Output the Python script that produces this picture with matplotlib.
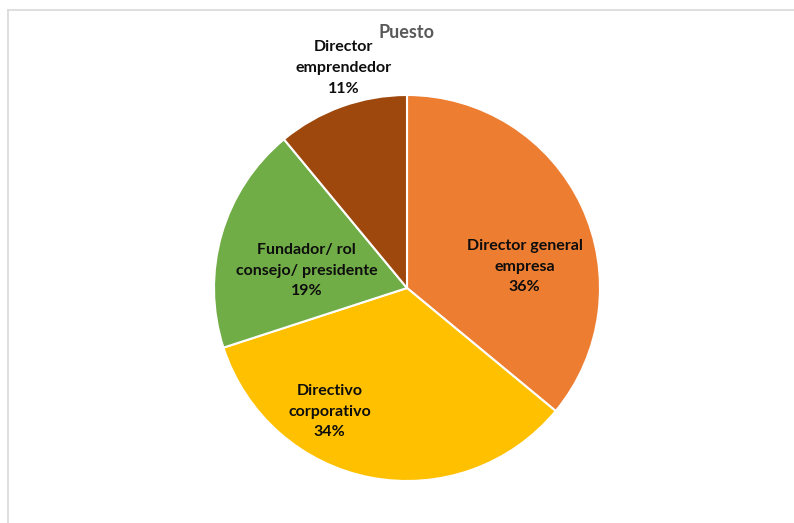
import matplotlib.pyplot as plt
from matplotlib.lines import Line2D

plt.rcParams['font.family'] = ['Lato', 'DejaVu Sans']

# data
labels = ["Director general\nempresa", "Directivo\ncorporativo",
          "Fundador/ rol\nconsejo/ presidente", "Director\nemprendedor"]
values = [36, 34, 19, 11]
colors = ["#ED7D31", "#FFC000", "#70AD47", "#9E480E"]
# label centres in pie-radius units (Excel "best fit" positions)
label_pos = [(0.61, 0.11), (-0.40, -0.64), (-0.52, 0.09), (-0.33, 1.14)]

W, H = 794, 523
fig = plt.figure(figsize=(W / 100, H / 100), dpi=100)

# chart border (cropped on right / bottom)
fig.add_artist(Line2D([8 / W, 1], [1 - 10 / H, 1 - 10 / H], color="#D9D9D9", lw=1.2))
fig.add_artist(Line2D([8 / W, 8 / W], [0, 1 - 10 / H], color="#D9D9D9", lw=1.2))

cx, cy, r = 407, 288, 193
ax = fig.add_axes([(cx - r) / W, (H - cy - r) / H, 2 * r / W, 2 * r / H])
wedges, _ = ax.pie(values, colors=colors, startangle=90, counterclock=False,
                   wedgeprops=dict(edgecolor="white", linewidth=1.5))
ax.set_xlim(-1, 1)
ax.set_ylim(-1, 1)
ax.set_aspect("equal")
ax.axis("off")

for lab, v, (x, y) in zip(labels, values, label_pos):
    ax.text(x, y, f"{lab}\n{v}%", ha="center", va="center", fontsize=11.5,
            fontweight="bold", color="#0D0D0D", linespacing=1.6, clip_on=False)

fig.text(cx / W, 1 - 33 / H, "Puesto", ha="center", va="center", fontsize=13,
         fontweight="bold", color="#595959")

fig.savefig("out.png", dpi=100)
